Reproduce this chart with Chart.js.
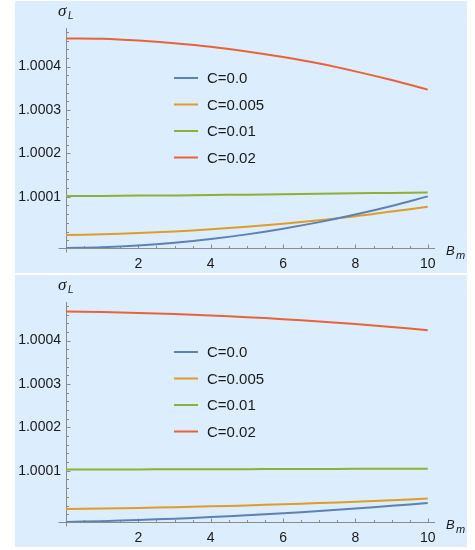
<!DOCTYPE html>
<html>
<head>
<meta charset="utf-8">
<title>sigma_L vs B_m</title>
<script src="https://cdn.jsdelivr.net/npm/chart.js@4.4.1/dist/chart.umd.min.js"></script>
<style>
body { margin: 0; background: white; }
.panel { position: absolute; left: 15px; width: 452px; height: 272px; background-color: #dcedfd; }
.panel canvas { display: block; }
</style>
</head>
<body>
<div class="panel" style="top: 1px;"><canvas id="topChart" width="452" height="272"></canvas></div>
<div class="panel" style="top: 275px;"><canvas id="bottomChart" width="452" height="272"></canvas></div>
<script>
var bValues = [0, 1, 2, 3, 4, 5, 6, 7, 8, 9, 10];
var seriesLabels = ["C=0.0", "C=0.005", "C=0.01", "C=0.02"];
var seriesColors = ["#5e81b5", "#e19c24", "#8fb032", "#eb6235"];

// top panel
var topC000 = [0.999982, 0.9999838, 0.9999878, 0.9999941, 1.0000026, 1.0000134, 1.0000265, 1.0000416, 1.0000591, 1.0000788, 1.000101];
var topC005 = [1.000012, 1.0000137, 1.0000164, 1.0000202, 1.000025, 1.000031, 1.000038, 1.000046, 1.000055, 1.000066, 1.000077];
var topC010 = [1.000102, 1.000102, 1.000103, 1.000103, 1.000104, 1.000105, 1.000106, 1.000107, 1.000108, 1.000109, 1.000110];
var topC020 = [1.000465, 1.000464, 1.000460, 1.000454, 1.000446, 1.000435, 1.000422, 1.000407, 1.000389, 1.000369, 1.000347];

// bottom panel
var bottomC000 = [0.999982, 0.999984, 0.9999866, 0.9999897, 0.9999933, 0.9999974, 1.0000021, 1.0000073, 1.000013, 1.0000192, 1.000026];
var bottomC005 = [1.0000122, 1.0000132, 1.0000145, 1.0000162, 1.0000181, 1.0000203, 1.0000228, 1.0000257, 1.0000288, 1.0000322, 1.000036];
var bottomC010 = [1.000103, 1.000103, 1.0001032, 1.0001034, 1.0001036, 1.0001038, 1.000104, 1.0001042, 1.0001045, 1.0001048, 1.000105];
var bottomC020 = [1.000467, 1.0004658, 1.0004639, 1.0004613, 1.0004581, 1.0004541, 1.0004495, 1.0004441, 1.0004381, 1.0004314, 1.000424];

var xTickLabels = [2, 4, 6, 8, 10];
var yTickLabels = [1.0001, 1.0002, 1.0003, 1.0004];
var xMin = 0, xMax = 10.2;
var yMin = 0.999982, yMax = 1.000489;

var textFont = '"Liberation Sans", Arial, sans-serif';
var axisColor = "#8c8c8c";
var textColor = "#1a1a1a";

// Mathematica-like axes: lines crossing at origin, ticks pointing inwards
var mmaAxesPlugin = {
    id: 'mmaAxes',
    beforeDatasetsDraw: function(chart) {
        const ctx = chart.ctx;
        const area = chart.chartArea;
        const xs = chart.scales.x;
        const ys = chart.scales.y;
        const x0 = Math.round(xs.getPixelForValue(0)) + 0.5;
        const y0 = Math.round(area.bottom) + 0.5;

        ctx.save();
        ctx.strokeStyle = axisColor;
        ctx.lineWidth = 1;
        ctx.beginPath();
        ctx.moveTo(x0 - 8, y0);
        ctx.lineTo(area.right, y0);
        ctx.moveTo(x0, area.top);
        ctx.lineTo(x0, y0 + 4);

        for (let k = 1; k * 0.5 <= xs.max; k++) {
            const px = Math.round(xs.getPixelForValue(k * 0.5)) + 0.5;
            const len = (k % 4 === 0) ? 4 : 2.5;
            ctx.moveTo(px, y0);
            ctx.lineTo(px, y0 - len);
        }
        for (let k = 0; k <= 25; k++) {
            const v = 1 + k * 0.00002;
            if (v < ys.min || v > ys.max) continue;
            const py = Math.round(ys.getPixelForValue(v)) + 0.5;
            const len = (k % 5 === 0 && k > 0) ? 4 : 2.5;
            ctx.moveTo(x0, py);
            ctx.lineTo(x0 + len, py);
        }
        ctx.stroke();
        ctx.restore();
    },
    afterDraw: function(chart) {
        const ctx = chart.ctx;
        const area = chart.chartArea;
        ctx.save();
        ctx.fillStyle = textColor;
        ctx.textBaseline = 'alphabetic';

        // axis labels
        ctx.font = 'italic 17px "Liberation Serif", serif';
        ctx.fillText("σ", area.left - 8, area.top - 12);
        ctx.font = 'italic 10px ' + textFont;
        ctx.fillText("L", area.left + 2, area.top - 9);
        ctx.font = 'italic 13px ' + textFont;
        ctx.fillText("B", area.right + 11, area.bottom + 7);
        ctx.font = 'italic 11px ' + textFont;
        ctx.fillText("m", area.right + 21, area.bottom + 10.5);

        // legend inside the plot
        const lx = area.left + 108;
        ctx.font = '15px ' + textFont;
        ctx.textBaseline = 'middle';
        chart.data.datasets.forEach(function(ds, i) {
            const ly = area.top + 50 + i * 26.5;
            ctx.strokeStyle = ds.borderColor;
            ctx.lineWidth = 2;
            ctx.beginPath();
            ctx.moveTo(lx, ly);
            ctx.lineTo(lx + 24, ly);
            ctx.stroke();
            ctx.fillText(ds.label, lx + 33, ly + 1);
        });
        ctx.restore();
    }
};

function makeChart(canvasId, seriesData) {
    const datasets = seriesLabels.map(function(label, i) {
        return {
            label: label,
            data: bValues.map(function(b, j) { return { x: b, y: seriesData[i][j] }; }),
            borderColor: seriesColors[i],
            borderWidth: 2,
            pointRadius: 0,
            tension: 0.4,
            fill: false
        };
    });

    new Chart(document.getElementById(canvasId), {
        type: 'line',
        data: { datasets: datasets },
        plugins: [mmaAxesPlugin],
        options: {
            responsive: false,
            animation: false,
            layout: { padding: { left: 0, top: 27, right: 32, bottom: 0 } },
            plugins: {
                legend: { display: false },
                tooltip: { enabled: false }
            },
            scales: {
                x: {
                    type: 'linear',
                    min: xMin,
                    max: xMax,
                    grid: { display: false, drawTicks: false },
                    border: { display: false },
                    afterBuildTicks: function(scale) {
                        scale.ticks = xTickLabels.map(function(v) { return { value: v }; });
                    },
                    afterFit: function(scale) { scale.height = 25; },
                    ticks: {
                        font: { family: textFont, size: 14 },
                        color: textColor,
                        padding: 8,
                        maxRotation: 0,
                        autoSkip: false
                    }
                },
                y: {
                    type: 'linear',
                    min: yMin,
                    max: yMax,
                    grid: { display: false, drawTicks: false },
                    border: { display: false },
                    afterBuildTicks: function(scale) {
                        scale.ticks = yTickLabels.map(function(v) { return { value: v }; });
                    },
                    afterFit: function(scale) { scale.width = 51; },
                    ticks: {
                        font: { family: textFont, size: 14 },
                        color: textColor,
                        padding: 5,
                        callback: function(v) { return v.toFixed(4); }
                    }
                }
            }
        }
    });
}

makeChart("topChart", [topC000, topC005, topC010, topC020]);
makeChart("bottomChart", [bottomC000, bottomC005, bottomC010, bottomC020]);
</script>
</body>
</html>
